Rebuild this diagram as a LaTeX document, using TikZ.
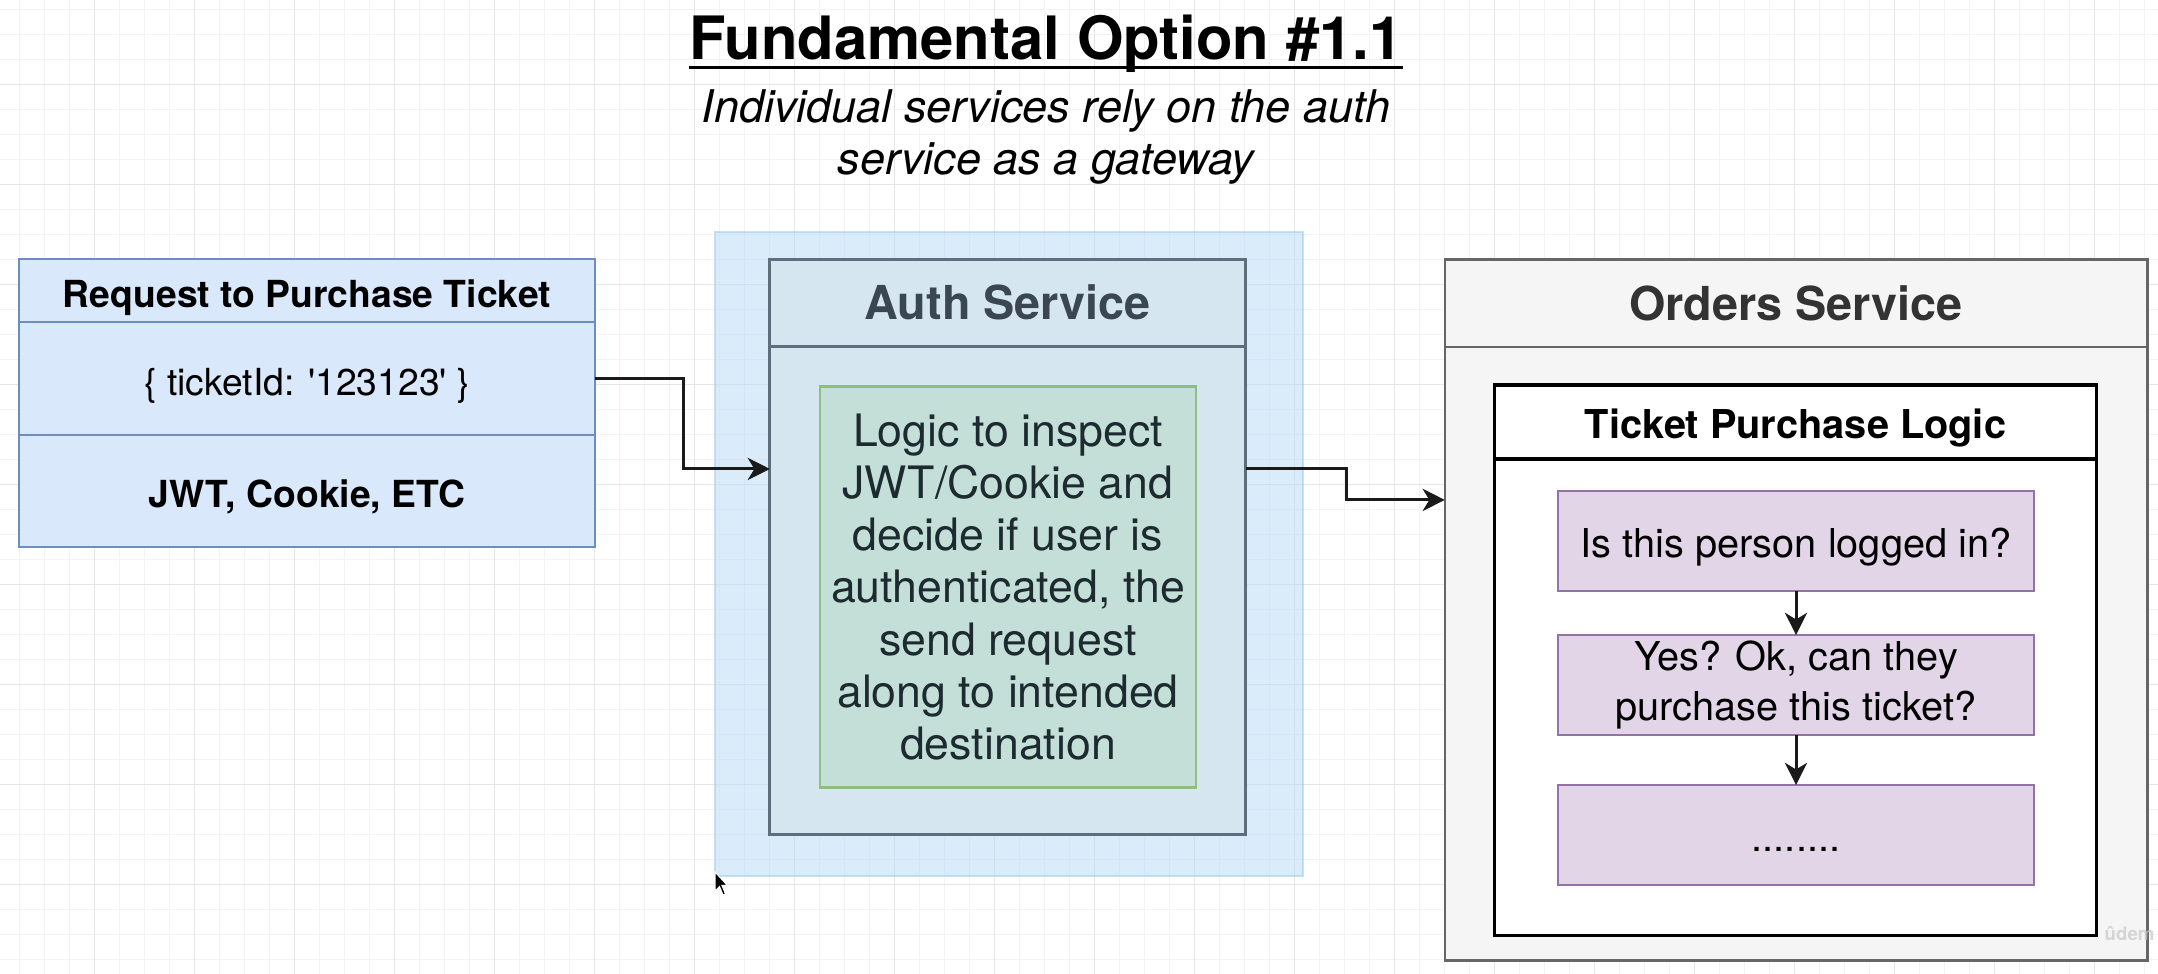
\documentclass[tikz,border=0pt]{standalone}
\usepackage{fontspec}
\setmainfont{TeX Gyre Heros}
\usetikzlibrary{arrows.meta}
\definecolor{reqfill}{HTML}{DAE8FC}
\definecolor{reqdraw}{HTML}{6C8EBF}
\definecolor{hlfill}{HTML}{B7DBF7}
\definecolor{hldraw}{HTML}{A3CDEF}
\definecolor{authfill}{HTML}{D6E6F0}
\definecolor{authdraw}{HTML}{5E6E7C}
\definecolor{authtext}{HTML}{3A4750}
\definecolor{grfill}{HTML}{C3DFD8}
\definecolor{grdraw}{HTML}{8DBF85}
\definecolor{grtext}{HTML}{1D2B30}
\definecolor{ordfill}{HTML}{F5F5F5}
\definecolor{orddraw}{HTML}{666666}
\definecolor{ordtext}{HTML}{333333}
\definecolor{pufill}{HTML}{E1D5E7}
\definecolor{pudraw}{HTML}{9673A6}
\definecolor{gridminor}{HTML}{F3F3F3}
\definecolor{gridmajor}{HTML}{E6E6E6}
\definecolor{linecol}{HTML}{1A1A1A}
\newcommand{\myfs}[2]{\fontsize{#1}{#2}\selectfont}
\tikzset{
  box/.style={inner sep=0pt, outer sep=0pt},
  vc/.style={text height=1.14em, text depth=0.2em},
  arr/.style={draw=linecol, line width=0.85pt, -{Stealth[length=6.3pt,width=6.3pt,inset=1.9pt]}},
  reqrow/.style={box, vc, draw=reqdraw, fill=reqfill, line width=0.65pt, minimum width=5.76cm},
  purow/.style={box, draw=pudraw, fill=pufill, line width=0.65pt, minimum width=4.76cm, minimum height=1cm, align=center, font=\myfs{11.3}{14}},
}
\begin{document}
\begin{tikzpicture}[x=0.01cm,y=-0.01cm]
\useasboundingbox (0,0) rectangle (2158,974);
\fill[white] (0,0) rectangle (2158,974);
% grid
\foreach \i in {0,...,86} {
  \draw[gridminor, line width=0.3pt] ({19.3+25*\i},0) -- ({19.3+25*\i},974);
}
\foreach \j in {0,...,38} {
  \draw[gridminor, line width=0.3pt] (0,{9.3+25*\j}) -- (2158,{9.3+25*\j});
}
\foreach \i in {0,...,21} {
  \draw[gridmajor, line width=0.35pt] ({94.3+100*\i},0) -- ({94.3+100*\i},974);
}
\foreach \j in {0,...,9} {
  \draw[gridmajor, line width=0.35pt] (0,{84.3+100*\j}) -- (2158,{84.3+100*\j});
}

% title
\node[anchor=base, inner sep=0pt, font=\bfseries\myfs{17}{20}] (title) at (1046,60) {Fundamental Option \#1.1};
\draw[line width=0.85pt] ([yshift=-2.1pt]title.base west) -- ([yshift=-2.1pt]title.base east);
\node[anchor=base, inner sep=0pt, align=center, font=\itshape\myfs{12.8}{14.8}] (sub) at (1046,175) {Individual services rely on the auth\\service as a gateway};

% request box
\node[reqrow, minimum height=0.63cm, font=\bfseries\myfs{10.6}{12.7}] (reqH) at (307,290.5) {Request to Purchase Ticket};
\node[reqrow, minimum height=1.13cm, font=\myfs{10.6}{12.7}] (reqB) at (307,378.5) {\{ ticketId: \textquotesingle 123123\textquotesingle\ \}};
\node[reqrow, minimum height=1.12cm, font=\bfseries\myfs{10.6}{12.7}] (reqC) at (307,491) {JWT, Cookie, ETC};

% highlight
\node[box, fill=hlfill, fill opacity=0.5, draw=hldraw, draw opacity=0.6, line width=0.5pt, minimum width=5.88cm, minimum height=6.44cm] (hl) at (1009,554) {};

% auth service
\node[box, draw=authdraw, fill=authfill, line width=0.85pt, minimum width=4.755cm, minimum height=5.745cm] (auth) at (1007.75,547.25) {};
\node[box, vc, draw=authdraw, line width=0.85pt, minimum width=4.755cm, minimum height=0.86cm, text=authtext, font=\bfseries\myfs{13.3}{16}] (authH) at (1007.75,303) {Auth Service};
\node[box, draw=grdraw, fill=grfill, line width=0.65pt, minimum width=3.76cm, minimum height=4.01cm, align=center, text=grtext, font=\myfs{12.7}{14.85}] (green) at (1008,587) {Logic to inspect\\JWT/Cookie and\\decide if user is\\authenticated, the\\send request\\along to intended\\destination};

% orders service
\node[box, draw=orddraw, fill=ordfill, line width=0.75pt, minimum width=7.02cm, minimum height=7cm] (orders) at (1796,610) {};
\node[box, vc, draw=orddraw, line width=0.75pt, minimum width=7.02cm, minimum height=0.87cm, text=ordtext, font=\bfseries\myfs{13.3}{16}] (ordH) at (1796,303.5) {Orders Service};
\node[box, draw=black, fill=white, line width=0.9pt, minimum width=6.01cm, minimum height=5.5cm] (ticket) at (1795.5,660) {};
\node[box, vc, draw=black, line width=0.9pt, minimum width=6.01cm, minimum height=0.74cm, font=\bfseries\myfs{11.3}{13.5}] (ticketH) at (1795.5,422) {Ticket Purchase Logic};
\node[purow, vc] (p1) at (1796,541) {Is this person logged in?};
\node[purow] (p2) at (1796,685) {Yes? Ok, can they\\purchase this ticket?};
\node[purow, vc] (p3) at (1796,835) {........};

% connectors
\draw[arr] (reqB.east) -- ++(88,0) |- ([yshift=0.7825cm]auth.west);
\draw[arr] ([yshift=0.7825cm]auth.east) -- ++(100.5,0) |- ([yshift=1.10cm]orders.west);
\draw[arr] (p1.south) -- (p2.north);
\draw[arr] (p2.south) -- (p3.north);

% mouse cursor
\filldraw[fill=black, draw=white, line width=0.3pt] (715,872) -- ++(0,19) -- ++(4.5,-4.5) -- ++(3.5,8.5) -- ++(2.5,-1) -- ++(-3.5,-8.5) -- ++(5.5,0) -- cycle;

% watermark
\node[anchor=base west, inner sep=0pt, text=gray!45, text opacity=0.7, font=\bfseries\myfs{5.3}{7}] (wm) at (2104,941) {ûdem};
\end{tikzpicture}
\end{document}
